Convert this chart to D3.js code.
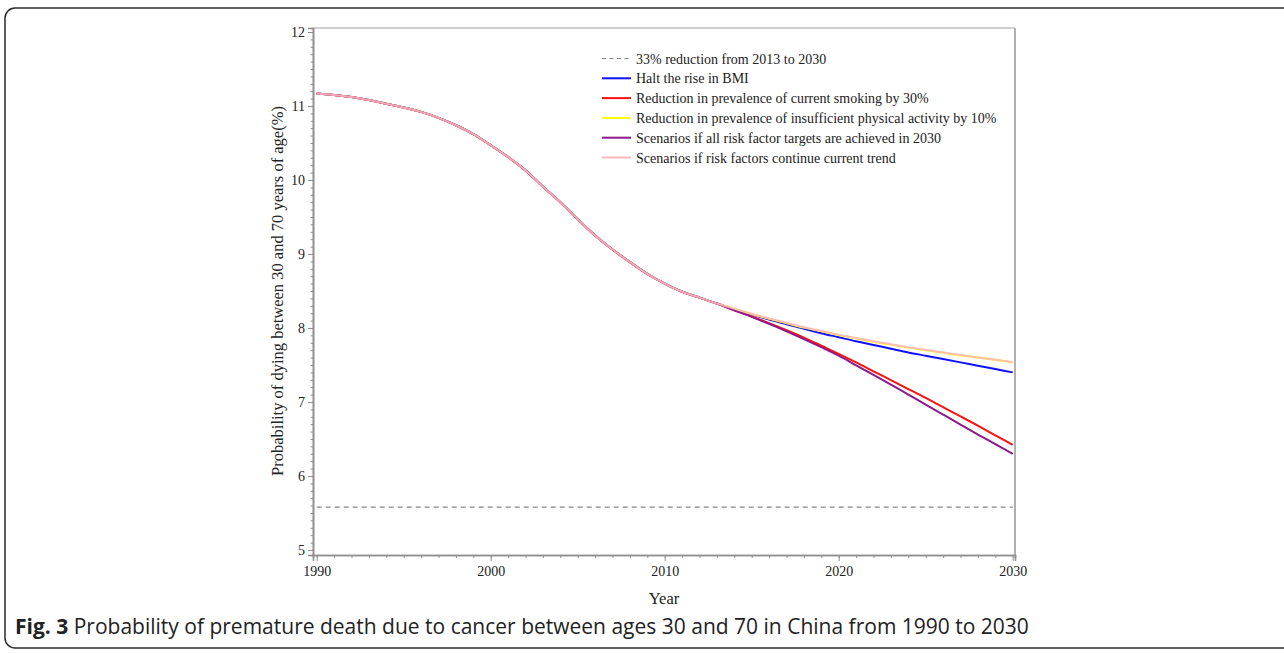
<!DOCTYPE html>
<html><head><meta charset="utf-8">
<script src="https://cdn.jsdelivr.net/npm/d3@7"></script>
<style>html,body{margin:0;padding:0;background:#fff;}svg{display:block;}</style>
</head><body>
<svg id="chart" width="1284" height="653"></svg>
<script>
// ---- data ----
const histYears = d3.range(1990, 2014);
const histValues = [11.17,11.15,11.12,11.08,11.03,10.98,10.92,10.84,10.74,10.62,10.47,10.31,10.13,9.91,9.70,9.47,9.25,9.06,8.89,8.73,8.60,8.49,8.41,8.33];
const projYears = d3.range(2014, 2031);
const bmiValues      = [8.25,8.18,8.115,8.05,7.99,7.93,7.875,7.82,7.77,7.72,7.67,7.625,7.58,7.535,7.49,7.445,7.40];
const smokingValues  = [8.24,8.155,8.065,7.97,7.87,7.76,7.65,7.535,7.415,7.295,7.175,7.055,6.93,6.805,6.68,6.55,6.42];
const activityValues = [8.26,8.19,8.125,8.065,8.005,7.955,7.905,7.86,7.815,7.775,7.735,7.70,7.665,7.63,7.60,7.57,7.535];
const allValues      = [8.24,8.15,8.055,7.955,7.85,7.74,7.625,7.495,7.365,7.235,7.10,6.965,6.83,6.695,6.56,6.43,6.30];
const trendValues    = [8.26,8.19,8.13,8.07,8.01,7.96,7.91,7.865,7.82,7.78,7.74,7.705,7.67,7.635,7.60,7.57,7.54];
const targetValue = 5.58;
const seriesNames = [
  "33% reduction from 2013 to 2030",
  "Halt the rise in BMI",
  "Reduction in prevalence of current smoking by 30%",
  "Reduction in prevalence of insufficient physical activity by 10%",
  "Scenarios if all risk factor targets are achieved in 2030",
  "Scenarios if risk factors continue current trend"
];
const xTicks = [1990, 2000, 2010, 2020, 2030];
const yTicks = [5, 6, 7, 8, 9, 10, 11, 12];

// ---- layout ----
const svg = d3.select("#chart");
const L = 313, R = 1015, T = 28, B = 555;
const x = d3.scaleLinear().domain([1989.787, 2030.13]).range([L, R]);
const y = d3.scaleLinear().domain([4.932, 12.054]).range([B, T]);
const serif = "'Liberation Serif','Times New Roman',serif";

// outer rounded box
svg.append("rect").attr("x", 5).attr("y", 8).attr("width", 1290).attr("height", 640)
  .attr("rx", 10).attr("fill", "none").attr("stroke", "#2a2a2a").attr("stroke-width", 1.5);

// frame top/right
svg.append("line").attr("x1", L).attr("x2", R).attr("y1", T).attr("y2", T).attr("stroke", "#a0a0a0").attr("stroke-width", 1.2);
svg.append("line").attr("x1", R).attr("x2", R).attr("y1", T).attr("y2", B).attr("stroke", "#b0b0b0").attr("stroke-width", 2);

// axes
const xAxis = svg.append("g").attr("transform", `translate(0,${B})`);
xAxis.call(d3.axisBottom(x).tickValues(d3.range(1990, 2031)).tickSize(3).tickFormat(""));
xAxis.append("g").call(d3.axisBottom(x).tickValues(xTicks).tickSize(6).tickFormat(d3.format("d")).tickPadding(5));
xAxis.selectAll("path").attr("stroke", "#909090").attr("stroke-width", 1.6);
xAxis.selectAll("line").attr("stroke", "#909090");
xAxis.selectAll("text").attr("font-family", serif).attr("font-size", 14).attr("fill", "#222");

const yAxis = svg.append("g").attr("transform", `translate(${L},0)`);
yAxis.call(d3.axisLeft(y).tickValues(d3.range(50, 121).map(d => d / 10)).tickSize(2.5).tickFormat(""));
yAxis.append("g").call(d3.axisLeft(y).tickValues(yTicks).tickSize(5).tickFormat(d3.format("d")).tickPadding(3));
yAxis.selectAll("path").attr("stroke", "#909090").attr("stroke-width", 1.6);
yAxis.selectAll("line").attr("stroke", "#909090");
yAxis.selectAll("text").attr("font-family", serif).attr("font-size", 14).attr("fill", "#222");

// axis titles
svg.append("text").attr("x", (L + R) / 2).attr("y", 604).attr("text-anchor", "middle")
  .attr("font-family", serif).attr("font-size", 16.5).attr("fill", "#222").text("Year");
svg.append("text").attr("transform", `translate(283,291) rotate(-90)`).attr("text-anchor", "middle")
  .attr("font-family", serif).attr("font-size", 16.5).attr("fill", "#222")
  .text("Probability of dying between 30 and 70 years of age(%)");

// target line
svg.append("line").attr("x1", x(1990)).attr("x2", x(2030)).attr("y1", y(targetValue)).attr("y2", y(targetValue))
  .attr("stroke", "#888").attr("stroke-width", 1.2).attr("stroke-dasharray", "5,4");

// series
const line = d3.line().x(d => x(d[0])).y(d => y(d[1])).curve(d3.curveMonotoneX);
function full(vals) {
  return histYears.map((yr, i) => [yr, histValues[i]]).concat(projYears.map((yr, i) => [yr, vals[i]]));
}
const series = [
  {vals: bmiValues, color: "#1010ff", op: 1},
  {vals: smokingValues, color: "#ff1010", op: 1},
  {vals: activityValues, color: "#ffff00", op: 1},
  {vals: allValues, color: "#8b1a8b", op: 1},
  {vals: trendValues, color: "#ffb6c1", op: 0.9}
];
series.forEach(s => {
  svg.append("path").datum(full(s.vals)).attr("d", line).attr("fill", "none")
    .attr("stroke", s.color).attr("stroke-width", 2).attr("stroke-opacity", s.op);
});

// legend
const legColors = ["#888", "#1010ff", "#ff1010", "#ffff00", "#8b1a8b", "#ffb6c1"];
const lg = svg.append("g");
seriesNames.forEach((name, i) => {
  const yy = 58.5 + i * 19.8;
  lg.append("line").attr("x1", 602).attr("x2", 631).attr("y1", yy).attr("y2", yy)
    .attr("stroke", legColors[i]).attr("stroke-width", i === 0 ? 1.2 : 2)
    .attr("stroke-dasharray", i === 0 ? "4,3.5" : null);
  lg.append("text").attr("x", 636).attr("y", yy + 5).attr("font-family", serif)
    .attr("font-size", 14).attr("fill", "#222").text(name);
});

// caption
const cap = svg.append("text").attr("x", 15).attr("y", 634).attr("font-family", "'Open Sans','Noto Sans',sans-serif")
  .attr("font-size", 21).attr("fill", "#222");
cap.append("tspan").attr("font-weight", "bold").text("Fig. 3");
cap.append("tspan").text(" Probability of premature death due to cancer between ages 30 and 70 in China from 1990 to 2030");
</script>
</body></html>
